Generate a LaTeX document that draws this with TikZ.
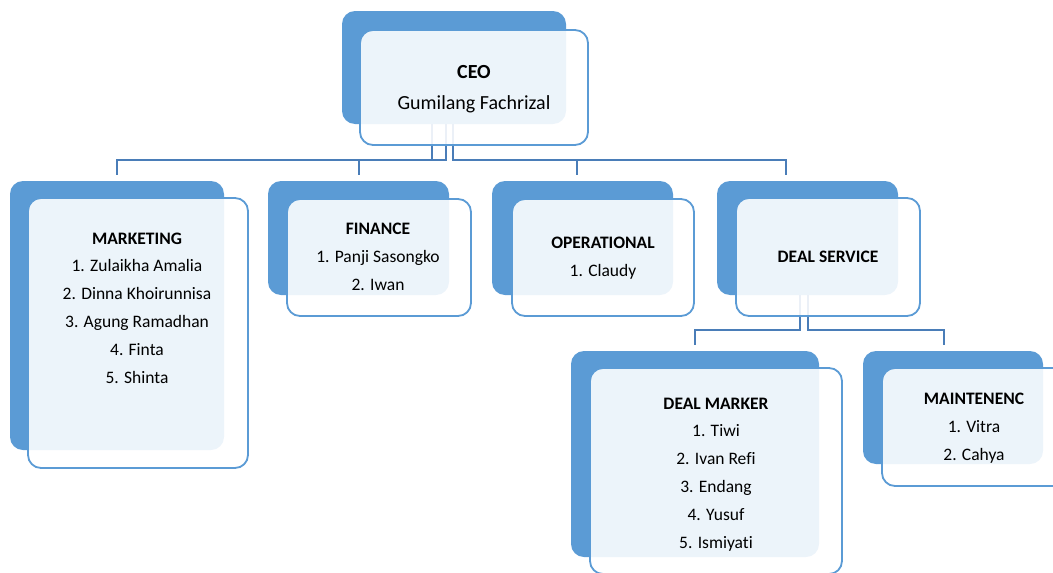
\documentclass[tikz,border=0pt]{standalone}
\usepackage{fontspec}
\setmainfont{Carlito}[Ligatures=NoCommon]
\definecolor{boxblue}{HTML}{5B9BD5}
\definecolor{linkblue}{HTML}{4A7DB8}

\begin{document}
\begin{tikzpicture}
[x=1pt,y=-1pt,
 back/.style={fill=boxblue,rounded corners=13pt,inner sep=0pt},
 front/.style={draw=boxblue,line width=1.8pt,fill=white,fill opacity=0.89,rounded corners=13pt,inner sep=0pt},
 unittext/.style={align=center,inner sep=0pt,font=\fontsize{17.5}{27.8}\selectfont,
   execute at begin node=\strut,execute at end node=\strut},
 link/.style={draw=linkblue,line width=2pt}]
\useasboundingbox (0,0) rectangle (1053,573);
\clip (0,0) rectangle (1053,573);
% back boxes
\node[back,minimum width=224pt,minimum height=113pt](ceo-b) at (454,67.5){};
\node[back,minimum width=214pt,minimum height=269pt](mkt-b) at (117,315.5){};
\node[back,minimum width=181pt,minimum height=114pt](fin-b) at (358.5,238){};
\node[back,minimum width=181pt,minimum height=114pt](ops-b) at (582.5,238){};
\node[back,minimum width=181pt,minimum height=114pt](ds-b) at (807.5,238){};
\node[back,minimum width=248pt,minimum height=206pt](dm-b) at (695,454){};
\node[back,minimum width=180pt,minimum height=113pt](mt-b) at (953,407.5){};
% connectors
\draw[link] ([xshift=-22pt]ceo-b.south) -- ++(0,36) -| ([yshift=6pt]mkt-b.north);
\draw[link] ([xshift=-8pt]ceo-b.south) -- ++(0,36) -| ([yshift=6pt]fin-b.north);
\draw[link] ([xshift=-1pt]ceo-b.south) -- ++(0,36) -| ([xshift=-5.5pt,yshift=6pt]ops-b.north);
\draw[link] ([xshift=-1pt]ceo-b.south) -- ++(0,36) -| ([xshift=-21.5pt,yshift=6pt]ds-b.north);
\draw[link] ([xshift=-7.5pt]ds-b.south) -- ++(0,35) -| ([yshift=6pt]dm-b.north);
\draw[link] (ds-b.south) -- ++(0,35) -| ([xshift=-9pt,yshift=6pt]mt-b.north);
% front boxes
\node[front,minimum width=228pt,minimum height=115pt](ceo) at (474,87.5){};
\node[front,minimum width=220pt,minimum height=270pt](mkt) at (138,333){};
\node[front,minimum width=184pt,minimum height=117pt](fin) at (379,257.5){};
\node[front,minimum width=182pt,minimum height=117pt](ops) at (603,257.5){};
\node[front,minimum width=184pt,minimum height=118pt](ds) at (828,257){};
\node[front,minimum width=252pt,minimum height=206pt](dm) at (716,471){};
\node[front,minimum width=184pt,minimum height=118pt](mt) at (974,427){};
% texts
\node[unittext,font=\fontsize{20}{31}\selectfont](ceo-t) at (474,92.5){\textbf{CEO}\\Gumilang Fachrizal};
\node[unittext](mkt-t) at (137,312){\textbf{MARKETING}\\1. Zulaikha Amalia\\2. Dinna Khoirunnisa\\3. Agung Ramadhan\\4. Finta\\5. Shinta};
\node[unittext](fin-t) at (378,261){\textbf{FINANCE}\\1. Panji Sasongko\\2. Iwan};
\node[unittext](ops-t) at (603,261){\textbf{OPERATIONAL}\\1. Claudy};
\node[unittext](ds-t) at (828,257){\textbf{DEAL SERVICE}};
\node[unittext](dm-t) at (716,477){\textbf{DEAL MARKER}\\1. Tiwi\\2. Ivan Refi\\3. Endang\\4. Yusuf\\5. Ismiyati};
\node[unittext](mt-t) at (974,431){\textbf{MAINTENENC}\\1. Vitra\\2. Cahya};
\end{tikzpicture}
\end{document}
